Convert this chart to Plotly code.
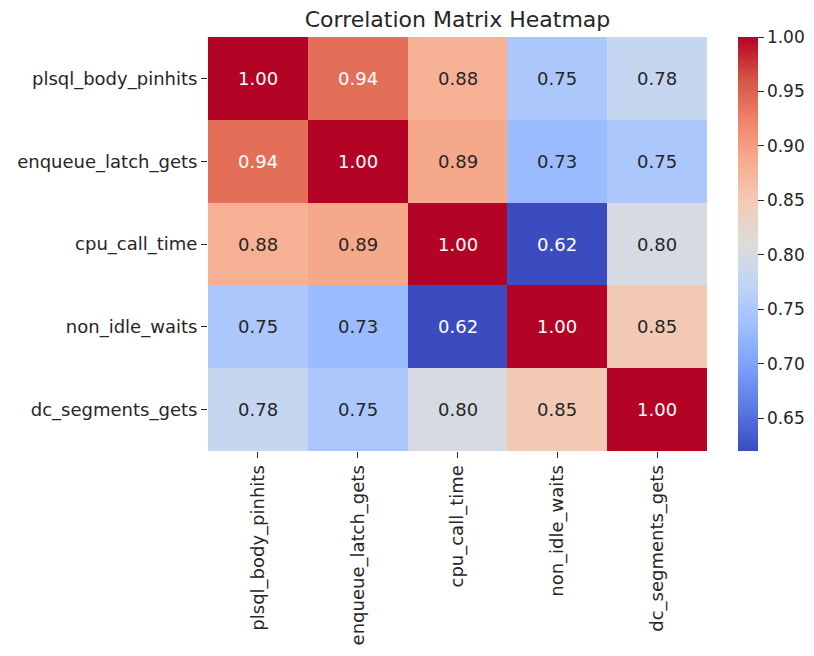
import plotly.graph_objects as go

# Correlation matrix between database metrics
metrics = ["plsql_body_pinhits", "enqueue_latch_gets", "cpu_call_time",
           "non_idle_waits", "dc_segments_gets"]
row_plsql = [1.00, 0.94, 0.88, 0.75, 0.78]
row_enqueue = [0.94, 1.00, 0.89, 0.73, 0.75]
row_cpu = [0.88, 0.89, 1.00, 0.62, 0.80]
row_nonidle = [0.75, 0.73, 0.62, 1.00, 0.85]
row_dcseg = [0.78, 0.75, 0.80, 0.85, 1.00]
corr = [row_plsql, row_enqueue, row_cpu, row_nonidle, row_dcseg]
cbar_ticks = [0.65, 0.70, 0.75, 0.80, 0.85, 0.90, 0.95, 1.00]

# matplotlib "coolwarm" sampled at 11 points
coolwarm_hex = ["#3b4cc0", "#5977e3", "#7b9ff9", "#9ebeff", "#c0d4f5", "#dddcdc",
                "#f2cbb7", "#f7ac8e", "#ee8468", "#d65244", "#b40426"]
colorscale = [[i / 10, c] for i, c in enumerate(coolwarm_hex)]

zmin = min(min(r) for r in corr)
zmax = max(max(r) for r in corr)


def hex_rgb(h):
    return [int(h[i:i + 2], 16) / 255 for i in (1, 3, 5)]


def color_at(v):
    t = (v - zmin) / (zmax - zmin)
    t = min(max(t, 0), 1)
    pos = t * 10
    i = min(int(pos), 9)
    f = pos - i
    a, b = hex_rgb(coolwarm_hex[i]), hex_rgb(coolwarm_hex[i + 1])
    return [a[k] + (b[k] - a[k]) * f for k in range(3)]


def luminance(rgb):
    lin = [c / 12.92 if c <= 0.03928 else ((c + 0.055) / 1.055) ** 2.4 for c in rgb]
    return 0.2126 * lin[0] + 0.7152 * lin[1] + 0.0722 * lin[2]


FONT = "DejaVu Sans"
W, H = 814, 656
fig = go.Figure(go.Heatmap(
    z=corr, x=metrics, y=metrics,
    colorscale=colorscale, zmin=zmin, zmax=zmax,
    xgap=0, ygap=0,
    colorbar=dict(
        xref="container", x=738 / W, xanchor="left",
        yref="paper", y=0.5, yanchor="middle",
        len=1.0, lenmode="fraction", thickness=20, xpad=0, ypad=0,
        outlinewidth=0, ticks="outside", ticklen=6, tickwidth=1,
        tickcolor="#262626", tickvals=cbar_ticks, tickformat=".2f",
        tickfont=dict(family=FONT, size=17, color="#262626"),
    ),
    hoverinfo="skip",
))

annotations = []
for r, name_r in enumerate(metrics):
    for c, name_c in enumerate(metrics):
        v = corr[r][c]
        txt_color = "#262626" if luminance(color_at(v)) > 0.408 else "white"
        annotations.append(dict(
            x=name_c, y=name_r, xref="x", yref="y", text=f"{v:.2f}",
            showarrow=False, font=dict(family=FONT, size=18, color=txt_color),
        ))

fig.update_layout(
    width=W, height=H,
    margin=dict(l=208, r=107, t=37, b=205, autoexpand=False),
    paper_bgcolor="white", plot_bgcolor="white",
    title=dict(text="Correlation Matrix Heatmap", x=0.5, xref="paper",
               y=1 - 19 / H, yref="container", yanchor="middle",
               font=dict(family=FONT, size=22, color="#262626")),
    annotations=annotations,
    font=dict(family=FONT, color="#262626"),
)
fig.update_xaxes(tickangle=-90, ticks="outside", ticklen=6, tickcolor="#262626",
                 showgrid=False, zeroline=False, showline=False,
                 tickfont=dict(family=FONT, size=18, color="#262626"))
fig.update_yaxes(autorange="reversed", ticks="outside", ticklen=6, tickcolor="#262626",
                 showgrid=False, zeroline=False, showline=False,
                 tickfont=dict(family=FONT, size=18, color="#262626"))

fig.write_html("out.html")
